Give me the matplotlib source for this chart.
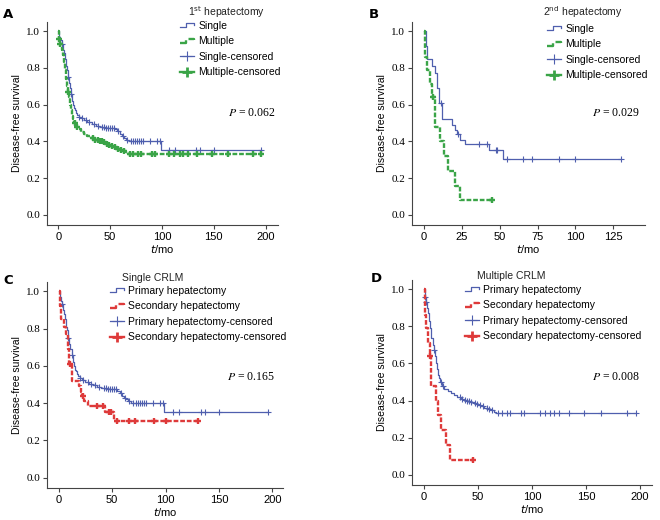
import numpy as np
import matplotlib
matplotlib.use("Agg")
import matplotlib.pyplot as plt
from matplotlib.lines import Line2D
from matplotlib.legend_handler import HandlerBase

# Kaplan-Meier step data (time in months, survival after each drop)
ps_times = [0, 1, 2, 3, 4, 5, 6, 7, 8, 9, 10, 11, 12, 13, 14, 15, 16, 17, 18, 20,
            22, 25, 28, 32, 36, 40, 45, 55, 57, 59, 61, 63, 65, 68, 99]
ps_surv = [1.0, 0.97, 0.95, 0.93, 0.90, 0.88, 0.85, 0.81, 0.79, 0.75, 0.72, 0.69, 0.66,
           0.62, 0.60, 0.58, 0.57, 0.555, 0.545, 0.535, 0.525, 0.515, 0.505, 0.495,
           0.485, 0.48, 0.475, 0.465, 0.455, 0.44, 0.43, 0.42, 0.41, 0.40, 0.355]
ps_censor = [3, 9, 12, 20, 23, 27, 30, 34, 38, 42, 44, 46, 48, 50, 52, 54, 58, 62, 66,
             70, 72, 74, 76, 78, 80, 82, 88, 95, 98, 107, 113, 133, 137, 150, 196]
ps_end = 196

pm_times = [0, 1, 2, 3, 4, 5, 6, 7, 8, 9, 10, 11, 12, 13, 14, 15, 17, 19, 22, 25, 28,
            31, 34, 37, 40, 43, 46, 48, 50, 53, 56, 59, 62, 65, 67]
pm_surv = [1.0, 0.96, 0.93, 0.90, 0.87, 0.83, 0.79, 0.74, 0.70, 0.67, 0.64, 0.60, 0.57,
           0.54, 0.52, 0.50, 0.48, 0.465, 0.45, 0.44, 0.43, 0.42, 0.41, 0.405, 0.40,
           0.395, 0.385, 0.38, 0.375, 0.37, 0.36, 0.355, 0.35, 0.34, 0.333]
pm_censor = [1, 2, 9, 16, 18, 33, 35, 38, 40, 42, 44, 47, 49, 52, 55, 58, 60, 63, 69,
             72, 77, 80, 90, 93, 107, 112, 117, 120, 125, 134, 148, 164, 188, 196]
pm_end = 196

ss_times = [0, 1, 2, 5, 7, 8.5, 10, 12, 18.5, 20.5, 22, 23.5, 27, 43, 52]
ss_surv = [1.0, 0.92, 0.85, 0.81, 0.77, 0.69, 0.61, 0.52, 0.49, 0.46, 0.44, 0.41,
           0.385, 0.355, 0.306]
ss_censor = [11, 22.5, 36, 41.5, 47.5, 48.5, 54.5, 65.5, 71.5, 89, 100, 130]
ss_end = 130

sm_times = [0, 0.7, 2, 3.7, 5.5, 7, 10.8, 13, 16, 20.7, 24]
sm_surv = [1.0, 0.86, 0.79, 0.71, 0.64, 0.48, 0.40, 0.32, 0.24, 0.16, 0.08]
sm_censor = [6, 45]
sm_end = 45

BLUE = '#4f5fae'
GREEN = '#3aa447'
RED = '#de3a3a'
SANS = 'Liberation Sans'
SERIF = 'Liberation Serif'


class StepHandler(HandlerBase):
    # SPSS-like step glyph for the curve entries
    def create_artists(self, legend, orig_handle, xdescent, ydescent, width, height,
                       fontsize, trans):
        x0 = -xdescent
        y0 = -ydescent
        xs = [x0, x0 + width * 0.45, x0 + width * 0.45, x0 + width, x0 + width]
        ys = [y0 + height * 0.25, y0 + height * 0.25, y0 + height * 0.8,
              y0 + height * 0.8, y0 + height * 0.55]
        ln = Line2D(xs, ys, color=orig_handle.get_color(),
                    lw=orig_handle.get_linewidth(), linestyle=orig_handle.get_linestyle(),
                    transform=trans)
        return [ln]


def km(ax, times, surv, censor, end, color, thick):
    t = list(times) + [end]
    s = list(surv) + [surv[-1]]
    if thick:
        ax.step(t, s, where='post', color=color, lw=1.7, ls=(0, (2, 0.8)))
    else:
        ax.step(t, s, where='post', color=color, lw=0.9)
    idx = np.searchsorted(times, censor, side='right') - 1
    cy = np.array(surv)[idx]
    ax.plot(censor, cy, ls='none', marker='+', color=color,
            ms=5, mew=1.7 if thick else 0.8)


def handles(color2):
    h1 = Line2D([], [], color=BLUE, lw=0.9)
    h2 = Line2D([], [], color=color2, lw=1.7, ls=(0, (2, 0.8)))
    h3 = Line2D([], [], color=BLUE, lw=0.9, marker='+', ms=7, mew=0.8)
    h4 = Line2D([], [], color=color2, lw=1.7, marker='+', ms=7, mew=2.0)
    return [h1, h2, h3, h4]


def style(ax, xlim, xticks):
    ax.set_xlim(*xlim)
    ax.set_ylim(-0.055, 1.05)
    ax.set_xticks(xticks)
    ax.set_xticklabels([str(v) for v in xticks], fontfamily=SANS, fontsize=8)
    ax.set_yticks([0.0, 0.2, 0.4, 0.6, 0.8, 1.0])
    ax.set_yticklabels(['0.0', '0.2', '0.4', '0.6', '0.8', '1.0'],
                       fontfamily=SERIF, fontsize=8)
    ax.tick_params(length=3, color='#444444', pad=2)
    for sp in ['top', 'right']:
        ax.spines[sp].set_visible(False)
    for sp in ['left', 'bottom']:
        ax.spines[sp].set_color('#444444')
        ax.spines[sp].set_linewidth(0.8)
    ax.set_ylabel('Disease-free survival', fontsize=7.5, fontfamily=SANS, labelpad=3)
    ax.set_xlabel('$t$/mo', fontsize=8, fontfamily=SANS, labelpad=1,
                  math_fontfamily='dejavusans')


W, H = 660, 520
fig = plt.figure(figsize=(6.6, 5.2), dpi=100)


def add_axes(left, right, top, bottom):
    return fig.add_axes([left / W, 1 - bottom / H, (right - left) / W, (bottom - top) / H])


axA = add_axes(47, 278, 22, 225)
axB = add_axes(412, 645, 22, 225)
axC = add_axes(47, 283, 282, 488)
axD = add_axes(412, 652, 280, 485)

km(axA, ps_times, ps_surv, ps_censor, ps_end, BLUE, False)
km(axA, pm_times, pm_surv, pm_censor, pm_end, GREEN, True)
km(axB, ss_times, ss_surv, ss_censor, ss_end, BLUE, False)
km(axB, sm_times, sm_surv, sm_censor, sm_end, GREEN, True)
km(axC, ps_times, ps_surv, ps_censor, ps_end, BLUE, False)
km(axC, ss_times, ss_surv, ss_censor, ss_end, RED, True)
km(axD, pm_times, pm_surv, pm_censor, pm_end, BLUE, False)
km(axD, sm_times, sm_surv, sm_censor, sm_end, RED, True)

style(axA, (-11, 212), [0, 50, 100, 150, 200])
style(axB, (-8, 146), [0, 25, 50, 75, 100, 125])
style(axC, (-11, 210), [0, 50, 100, 150, 200])
style(axD, (-11, 211), [0, 50, 100, 150, 200])

labels_ab = ['Single', 'Multiple', 'Single-censored', 'Multiple-censored']
labels_cd = ['Primary hepatectomy', 'Secondary hepatectomy',
             'Primary hepatectomy-censored', 'Secondary hepatectomy-censored']

# (axes, handles, labels, title, legend x, legend top, title x, title y) in pixels
legends = [
    (axA, handles(GREEN), labels_ab, '1$^{\\mathrm{st}}$ hepatectomy', 180, 21, 188, 12),
    (axB, handles(GREEN), labels_ab, '2$^{\\mathrm{nd}}$ hepatectomy', 547, 24, 543, 12),
    (axC, handles(RED), labels_cd, 'Single CRLM', 110, 286, 122, 278),
    (axD, handles(RED), labels_cd, 'Multiple CRLM', 465, 285, 477, 276),
]
for ax, hs, labs, title, lx, ly, tx, ty in legends:
    hmap = {hs[0]: StepHandler(), hs[1]: StepHandler()}
    ax.legend(hs, labs, loc='upper left',
              bbox_to_anchor=(lx / W, 1 - ly / H), bbox_transform=fig.transFigure,
              frameon=False, prop={'family': SANS, 'size': 7.5},
              handlelength=1.3, handletextpad=0.45, labelspacing=0.52,
              borderpad=0, borderaxespad=0, handler_map=hmap)
    fig.text(tx / W, 1 - ty / H, title, fontsize=7.5, fontfamily=SANS, va='center',
             color='#222222')

p_texts = [(axA, '0.062', 0.987, 0.55), (axB, '0.029', 0.979, 0.55),
           (axC, '0.165', 0.965, 0.54), (axD, '0.008', 0.951, 0.527)]
for ax, p, x, y in p_texts:
    ax.text(x, y, '$P$ = ' + p, transform=ax.transAxes, ha='right', va='center',
            fontsize=8.5, fontfamily=SERIF, math_fontfamily='stix')

for letter, x, y in [('A', 3, 14), ('B', 369, 14), ('C', 3, 280), ('D', 371, 278)]:
    fig.text(x / W, 1 - y / H, letter, fontsize=9.5, fontweight='bold', va='center',
             fontfamily='DejaVu Sans')

fig.savefig('out.png', dpi=100)
